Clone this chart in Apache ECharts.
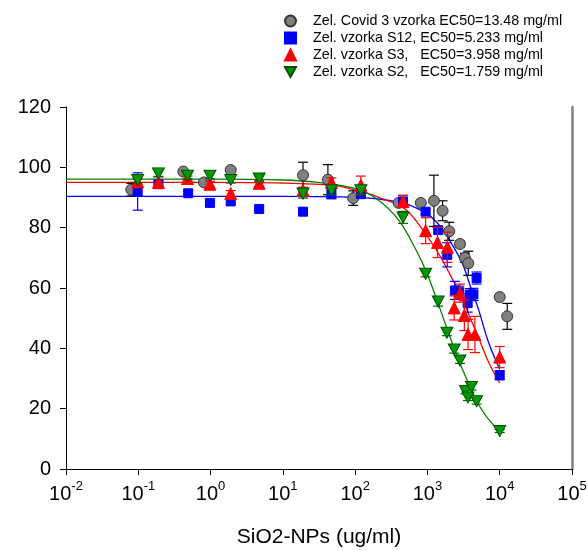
<!DOCTYPE html>
<html>
<head>
<meta charset="utf-8">
<script src="https://cdn.jsdelivr.net/npm/echarts@6/dist/echarts.min.js"></script>
<style>
html,body{margin:0;padding:0;background:#fff;}
#chart{width:588px;height:551px;}
</style>
</head>
<body>
<div id="chart"></div>
<script>
// ---------- data (x in ug/ml, y = viability %) ----------
const seriesNames = [
  'Zel. Covid 3 vzorka EC50=13.48 mg/ml',
  'Zel. vzorka S12, EC50=5.233 mg/ml',
  'Zel. vzorka S3,   EC50=3.958 mg/ml',
  'Zel. vzorka S2,   EC50=1.759 mg/ml'
];

const covidX   = [0.08, 0.42, 0.81, 1.9, 19, 42, 94, 400, 810, 1230, 1620, 2000, 2820, 3300, 3670, 10000, 12700];
const covidY   = [92.6, 98.6, 95.0, 99.1, 97.4, 95.9, 89.8, 88.2, 88.2, 88.9, 85.6, 78.8, 74.6, 70.0, 68.2, 57.0, 50.6];
const covidErr = [2.1, 0, 0, 0, 4.3, 5, 2.4, 0, 0, 8.5, 3.3, 3, 1, 1.5, 4, 0, 4.3];

const s12X   = [0.098, 0.19, 0.49, 0.98, 1.9, 4.7, 19, 47, 120, 460, 944, 1410, 1880, 2400, 2760, 3600, 3870, 4330, 4790, 10000];
const s12Y   = [92.0, 94.4, 91.4, 88.2, 88.7, 86.2, 85.3, 91.1, 91.1, 88.7, 85.3, 79.2, 71.0, 59.2, 58.6, 55.0, 57.8, 57.9, 63.3, 31.1];
const s12Err = [6.2, 1, 0.8, 1, 1, 0.8, 1, 1.5, 1, 2, 1, 1, 4, 3, 2, 3, 2, 2, 2, 1.5];

const s3X   = [0.098, 0.19, 0.48, 0.98, 1.9, 4.7, 19, 47, 120, 460, 944, 1380, 1890, 2350, 2820, 3240, 3650, 4540, 10000];
const s3Y   = [95.2, 95.0, 96.3, 94.4, 91.3, 94.7, 92.4, 95.0, 94.1, 88.7, 79.0, 75.1, 73.5, 53.4, 58.3, 50.9, 44.6, 44.6, 37.1];
const s3Err = [0.8, 1.8, 0.8, 1, 1, 1, 1, 1.5, 3, 2, 4.3, 5, 5, 4, 3, 5, 5, 6, 3.5];

const s2X   = [0.098, 0.19, 0.48, 0.98, 1.9, 4.7, 19, 47, 120, 460, 944, 1410, 1860, 2350, 2820, 3360, 3640, 4070, 4790, 10000];
const s2Y   = [95.8, 98.0, 97.2, 97.2, 95.8, 96.3, 91.3, 92.4, 92.4, 83.4, 64.7, 55.5, 45.2, 39.6, 36.0, 25.9, 23.7, 27.2, 22.5, 12.6];
const s2Err = [1, 1, 1, 1, 1, 1, 1.5, 1.5, 1.5, 2, 1, 1.5, 1, 1.2, 1, 1, 1, 1, 1, 0.5];

// fitted curves
const fitS12X = [0.01, 10, 100, 300, 500, 1000, 1500, 2000, 3000, 4000, 5000, 7000, 10000];
const fitS12Y = [90.4, 90.4, 90.1, 89.0, 88.0, 84.5, 80.5, 76.0, 68.5, 60.0, 53.5, 42.0, 33.0];
const fitS3X  = [0.01, 1, 10, 50, 100, 200, 500, 1000, 1500, 2000, 3000, 4000, 5000, 7000, 10000];
const fitS3Y  = [95.0, 95.0, 94.8, 94.0, 92.5, 90.3, 86.0, 77.0, 70.5, 65.0, 56.5, 49.5, 44.0, 35.5, 28.5];
const fitS2X  = [0.01, 1, 10, 30, 100, 200, 400, 700, 1000, 1500, 2000, 3000, 5000, 7000, 10000];
const fitS2Y  = [96.1, 96.1, 95.8, 95.0, 93.0, 89.5, 82.5, 72.5, 64.5, 53.0, 44.5, 33.5, 21.8, 16.5, 12.5];

const xTicks = [0.01, 0.1, 1, 10, 100, 1000, 10000, 100000];
const yTicks = [0, 20, 40, 60, 80, 100, 120];

// ---------- helpers ----------
const FONT = 'Arial, "Liberation Sans", sans-serif';
const zip = (xs, ys) => xs.map((x, i) => [x, ys[i]]);
const zip3 = (xs, ys, es) => xs.map((x, i) => [x, ys[i], es[i]]);
const downTri = 'path://M0,0 L10,0 L5,9 Z';

function errSeries(name, xs, ys, es, color, z) {
  return {
    type: 'custom', name: name + ' err', z: z, silent: true,
    data: zip3(xs, ys, es),
    encode: { x: 0, y: 1 },
    renderItem: function (params, api) {
      const x = api.value(0), y = api.value(1), e = api.value(2);
      if (!e) return null;
      const t = api.coord([x, y + e]), b = api.coord([x, y - e]);
      const w = 5;
      const st = { stroke: color, lineWidth: 1.2 };
      return { type: 'group', children: [
        { type: 'line', shape: { x1: t[0], y1: t[1], x2: b[0], y2: b[1] }, style: st },
        { type: 'line', shape: { x1: t[0] - w, y1: t[1], x2: t[0] + w, y2: t[1] }, style: st },
        { type: 'line', shape: { x1: b[0] - w, y1: b[1], x2: b[0] + w, y2: b[1] }, style: st }
      ]};
    }
  };
}

function fitSeries(name, xs, ys, color) {
  return {
    type: 'line', name: name + ' fit', data: zip(xs, ys), showSymbol: false, symbol: 'none',
    smooth: 0.35, lineStyle: { color: color, width: 1.3 }, z: 1, silent: true
  };
}

function ptSeries(name, xs, ys, symbol, size, fill, border, z) {
  return {
    type: 'scatter', name: name, data: zip(xs, ys), symbol: symbol, symbolSize: size, z: z,
    itemStyle: { color: fill, borderColor: border, borderWidth: 1, opacity: 1 }
  };
}

const chart = echarts.init(document.getElementById('chart'), null, { renderer: 'canvas' });
chart.setOption({
  animation: false,
  backgroundColor: '#fff',
  textStyle: { fontFamily: FONT },
  grid: { left: 66, right: 16, top: 107, bottom: 82, containLabel: false, outerBoundsMode: 'none' },
  legend: {
    data: seriesNames,
    orient: 'vertical', left: 284, top: 13, padding: 0,
    itemWidth: 11, itemHeight: 11, itemGap: 1,
    selectedMode: false,
    textStyle: { fontFamily: FONT, fontSize: 14.3, lineHeight: 16, color: '#000', padding: [0, 0, 0, 12] }
  },
  xAxis: {
    type: 'log', logBase: 10, min: xTicks[0], max: xTicks[xTicks.length - 1],
    name: 'SiO2-NPs (ug/ml)', nameLocation: 'middle', nameGap: 58,
    nameTextStyle: { fontFamily: FONT, fontSize: 21, color: '#000' },
    axisLine: { show: true, onZero: false, lineStyle: { color: '#000', width: 1 } },
    axisTick: { show: true, length: 6, lineStyle: { color: '#000' } },
    minorTick: { show: false },
    splitLine: { show: false },
    axisLabel: {
      margin: 11, color: '#000',
      formatter: function (v) { return '{b|10}{s|' + Math.round(Math.log10(v)) + '}'; },
      rich: {
        b: { fontFamily: FONT, fontSize: 20, color: '#000', lineHeight: 24, verticalAlign: 'bottom' },
        s: { fontFamily: FONT, fontSize: 13, color: '#000', lineHeight: 14, verticalAlign: 'top' }
      }
    }
  },
  yAxis: [{
    type: 'value', min: yTicks[0], max: yTicks[yTicks.length - 1], interval: 20,
    axisLine: { show: true, lineStyle: { color: '#000', width: 1 } },
    axisTick: { show: true, length: 6, lineStyle: { color: '#000' } },
    splitLine: { show: false },
    axisLabel: { margin: 15, color: '#000', fontFamily: FONT, fontSize: 20 }
  }, {
    type: 'value', min: yTicks[0], max: yTicks[yTicks.length - 1], position: 'right',
    axisLine: { show: true, lineStyle: { color: '#808080', width: 2.5 } },
    axisTick: { show: false }, axisLabel: { show: false }, splitLine: { show: false }
  }],
  series: [
    fitSeries('S12', fitS12X, fitS12Y, '#0000ff'),
    fitSeries('S3', fitS3X, fitS3Y, '#ff0000'),
    fitSeries('S2', fitS2X, fitS2Y, '#008000'),
    errSeries('covid', covidX, covidY, covidErr, '#000000', 2),
    ptSeries(seriesNames[0], covidX, covidY, 'circle', 11, '#808080', '#333333', 3),
    errSeries('s12', s12X, s12Y, s12Err, '#0000ff', 4),
    ptSeries(seriesNames[1], s12X, s12Y, 'rect', 9, '#0000ff', '#0000ff', 5),
    errSeries('s3', s3X, s3Y, s3Err, '#ff0000', 6),
    ptSeries(seriesNames[2], s3X, s3Y, 'triangle', 12, '#ff0000', '#ff0000', 7),
    errSeries('s2', s2X, s2Y, s2Err, '#006400', 8),
    ptSeries(seriesNames[3], s2X, s2Y, downTri, [12, 11], '#009900', '#005000', 9)
  ]
});
</script>
</body>
</html>
